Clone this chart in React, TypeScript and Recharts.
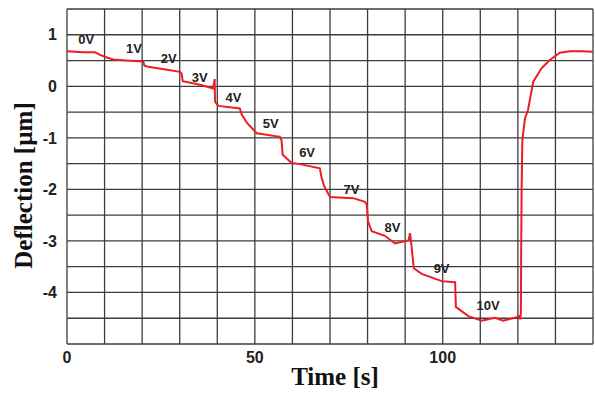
import React from 'react';
import { LineChart, Line, XAxis, YAxis, ReferenceLine, ReferenceDot } from 'recharts';

const timeS = [0, 4.3, 7.5, 8.8, 10.6, 12.3, 15.9, 20.3, 20.6, 21.6, 25, 30.1, 30.5, 30.8, 35.4, 38.9, 39.3, 39.4, 40.3, 46.0, 46.5, 47.9, 50.5, 56.7, 57.1, 57.4, 59.8, 62.0, 67.3, 67.7, 68.4, 70.0, 76.2, 79.3, 79.8, 80.1, 81.1, 84.6, 87.3, 90.9, 91.3, 91.7, 92.3, 94.4, 99.7, 103.3, 103.5, 106.8, 110.4, 113.9, 116.1, 119.7, 120.3, 120.6, 120.8, 120.9, 121.0, 121.2, 121.9, 122.7, 124.1, 126.3, 128.5, 131.2, 133.9, 137, 140];
const deflectionUm = [0.68, 0.66, 0.66, 0.61, 0.56, 0.52, 0.50, 0.48, 0.40, 0.38, 0.34, 0.28, 0.25, 0.10, 0.03, -0.04, 0.14, -0.30, -0.38, -0.43, -0.55, -0.71, -0.91, -0.98, -1.05, -1.33, -1.49, -1.51, -1.59, -1.75, -1.93, -2.15, -2.17, -2.24, -2.30, -2.62, -2.81, -2.90, -3.05, -2.99, -2.85, -3.10, -3.53, -3.64, -3.78, -3.80, -4.28, -4.46, -4.55, -4.49, -4.55, -4.48, -4.46, -4.52, -4.40, -3.0, -2.01, -1.04, -0.62, -0.46, 0.09, 0.35, 0.51, 0.65, 0.68, 0.68, 0.67];

const voltageLabels = ['0V', '1V', '2V', '3V', '4V', '5V', '6V', '7V', '8V', '9V', '10V'];
const labelTimes = [5.1, 17.8, 27.1, 35.3, 44.3, 54.2, 63.9, 75.7, 86.6, 99.7, 112.1];
const labelDeflections = [0.90, 0.74, 0.53, 0.18, -0.21, -0.73, -1.29, -2.00, -2.73, -3.54, -4.26];

const xTicks = [0, 50, 100];
const yTicks = [1, 0, -1, -2, -3, -4];
const gridTimes = [0, 10, 20, 30, 40, 50, 60, 70, 80, 90, 100, 110, 120, 130, 140];
const gridDeflections = [1.5, 1, 0.5, 0, -0.5, -1, -1.5, -2, -2.5, -3, -3.5, -4, -4.5, -5];

const data = timeS.map((t, i) => ({ t, d: deflectionUm[i] }));

const tickStyle = { fontFamily: 'Liberation Sans, Arial, sans-serif', fontWeight: 700, fontSize: 16, fill: '#222' };
const gridColor = '#3c3c3c';

export default function App() {
  return (
    <div style={{ position: 'absolute', left: 0, top: 0, background: '#fff' }}>
      <LineChart width={595} height={394} data={data} margin={{ top: 9, right: 2, bottom: 20, left: 0 }}>
        <XAxis
          dataKey="t"
          type="number"
          domain={[0, 140]}
          ticks={xTicks}
          axisLine={false}
          tickLine={false}
          tickSize={0}
          tickMargin={8}
          height={30}
          tick={tickStyle}
          label={({ viewBox }: any) => (
            <text
              x={viewBox.x + viewBox.width / 2 + 5}
              y={viewBox.y + 41}
              textAnchor="middle"
              fontFamily="Liberation Serif, Times New Roman, serif"
              fontWeight={700}
              fontSize={25}
              fill="#111"
            >
              Time [s]
            </text>
          )}
        />
        <YAxis
          type="number"
          domain={[-5, 1.5]}
          ticks={yTicks}
          axisLine={false}
          tickLine={false}
          tickSize={0}
          tickMargin={10}
          width={67}
          tick={tickStyle}
          label={({ viewBox }: any) => {
            const cx = viewBox.x + 32;
            const cy = viewBox.y + viewBox.height / 2 + 9;
            return (
              <text
                x={cx}
                y={cy}
                transform={`rotate(-90, ${cx}, ${cy})`}
                textAnchor="middle"
                fontFamily="Liberation Serif, Times New Roman, serif"
                fontWeight={700}
                fontSize={25}
                fill="#111"
              >
                Deflection [µm]
              </text>
            );
          }}
        />
        {gridTimes.map((g) => (
          <ReferenceLine key={'vx' + g} x={g} stroke={gridColor} strokeWidth={1.3} />
        ))}
        {gridDeflections.map((g) => (
          <ReferenceLine key={'hy' + g} y={g} stroke={gridColor} strokeWidth={1.3} />
        ))}
        <Line
          type="linear"
          dataKey="d"
          stroke="#ee1c25"
          strokeWidth={2}
          dot={false}
          isAnimationActive={false}
        />
        {voltageLabels.map((lab, i) => (
          <ReferenceDot
            key={lab}
            x={labelTimes[i]}
            y={labelDeflections[i]}
            r={1}
            fill="none"
            stroke="none"
            label={({ viewBox }: any) => (
              <text
                x={viewBox.x + viewBox.width / 2}
                y={viewBox.y + viewBox.height / 2}
                textAnchor="middle"
                dominantBaseline="central"
                fontFamily="Liberation Sans, Arial, sans-serif"
                fontWeight={700}
                fontSize={13}
                fill="#222"
              >
                {lab}
              </text>
            )}
          />
        ))}
      </LineChart>
    </div>
  );
}
